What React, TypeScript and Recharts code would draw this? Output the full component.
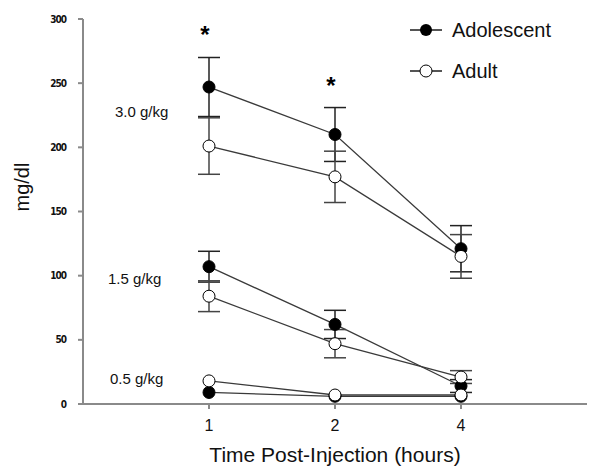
import React from 'react'
import { LineChart, Line, XAxis, YAxis, ErrorBar, Legend } from 'recharts'

// x positions are evenly spaced, labelled by the real hour values
const HOURS = ['1', '2', '4']
const X_POS = [1, 2, 3]
const Y_TICKS = [0, 50, 100, 150, 200, 250, 300]

const adol30 = [247, 210, 121]
const adol30Err = [23, 21, 18]
const adult30 = [201, 177, 115]
const adult30Err = [22, 20, 17]

const adol15 = [107, 62, 14]
const adol15Err = [12, 11, 5]
const adult15 = [84, 47, 21]
const adult15Err = [12, 11, 5]

const adol05 = [9, 6, 6]
const adult05 = [18, 7, 7]

const data = X_POS.map((x, i) => ({
    x,
    hour: HOURS[i],
    adol30: adol30[i], adol30Err: adol30Err[i],
    adult30: adult30[i], adult30Err: adult30Err[i],
    adol15: adol15[i], adol15Err: adol15Err[i],
    adult15: adult15[i], adult15Err: adult15Err[i],
    adol05: adol05[i],
    adult05: adult05[i],
}))

const FONT = '"Liberation Sans", Arial, sans-serif'
const LINE = '#3a3a3a'
const AXIS = '#8a8a8a'

const filledDot = { r: 6, fill: '#000', stroke: '#000', strokeWidth: 1 }
const openDot = { r: 6, fill: '#fff', stroke: '#000', strokeWidth: 1 }

function LegendBox() {
    return (
        <svg width={190} height={80} style={{ fontFamily: FONT }}>
            <line x1={5} y1={15} x2={37} y2={15} stroke="#555" strokeWidth={2} />
            <circle cx={21} cy={15} r={6} fill="#000" />
            <text x={47} y={22} fontSize={20} fill="#111">Adolescent</text>
            <line x1={5} y1={56} x2={37} y2={56} stroke="#555" strokeWidth={2} />
            <circle cx={21} cy={56} r={6} fill="#fff" stroke="#000" strokeWidth={1} />
            <text x={47} y={63} fontSize={20} fill="#111">Adult</text>
        </svg>
    )
}

export default function App() {
    return (
        <div style={{ position: 'absolute', left: 0, top: 0, width: 601, height: 474, background: '#fff' }}>
            <LineChart width={601} height={474} data={data} margin={{ top: 19, right: 14, left: 0, bottom: 0 }}>
                <XAxis
                    dataKey="x"
                    type="number"
                    domain={[0, 4]}
                    ticks={X_POS}
                    tickFormatter={(v) => HOURS[X_POS.indexOf(v)] ?? ''}
                    height={70}
                    stroke={AXIS}
                    strokeWidth={2}
                    tickSize={5}
                    tickMargin={11}
                    tick={{ fontSize: 16, fill: '#111', fontFamily: FONT }}
                    label={{ value: 'Time Post-Injection (hours)', position: 'insideBottom', offset: 12, fontSize: 21, fill: '#111', fontFamily: FONT }}
                />
                <YAxis
                    type="number"
                    domain={[0, 300]}
                    ticks={Y_TICKS}
                    width={83}
                    stroke={AXIS}
                    strokeWidth={2}
                    tickSize={5}
                    tickMargin={12}
                    tick={{ fontSize: 10, fill: '#111', fontWeight: 'bold', fontFamily: '"DejaVu Sans Condensed", "DejaVu Sans", sans-serif', letterSpacing: -1 }}
                    label={{ value: 'mg/dl', angle: -90, position: 'insideLeft', offset: 22, fontSize: 20, fill: '#111', fontFamily: FONT }}
                />
                <Legend layout="vertical" align="center" verticalAlign="middle" wrapperStyle={{ left: 405, top: 15, width: 190 }} content={() => <LegendBox />} />

                <Line dataKey="adol30" stroke={LINE} strokeWidth={1.3} dot={filledDot} isAnimationActive={false}>
                    <ErrorBar dataKey="adol30Err" width={11} stroke="#222" strokeWidth={1.5} direction="y" />
                </Line>
                <Line dataKey="adult30" stroke={LINE} strokeWidth={1.3} dot={openDot} isAnimationActive={false}>
                    <ErrorBar dataKey="adult30Err" width={11} stroke="#444" strokeWidth={1.5} direction="y" />
                </Line>
                <Line dataKey="adol15" stroke={LINE} strokeWidth={1.3} dot={filledDot} isAnimationActive={false}>
                    <ErrorBar dataKey="adol15Err" width={11} stroke="#222" strokeWidth={1.5} direction="y" />
                </Line>
                <Line dataKey="adult15" stroke={LINE} strokeWidth={1.3} dot={openDot} isAnimationActive={false}>
                    <ErrorBar dataKey="adult15Err" width={11} stroke="#444" strokeWidth={1.5} direction="y" />
                </Line>
                <Line dataKey="adol05" stroke={LINE} strokeWidth={1.3} dot={filledDot} isAnimationActive={false} />
                <Line dataKey="adult05" stroke={LINE} strokeWidth={1.3} dot={openDot} isAnimationActive={false} />
            </LineChart>

            {/* dose labels and significance stars */}
            <svg width={601} height={474} style={{ position: 'absolute', left: 0, top: 0, pointerEvents: 'none', fontFamily: FONT }}>
                <text x={205} y={43} fontSize={24} fontWeight="bold" textAnchor="middle" fill="#000">*</text>
                <text x={331} y={94} fontSize={24} fontWeight="bold" textAnchor="middle" fill="#000">*</text>
                <text x={115} y={117} fontSize={15} fill="#111">3.0 g/kg</text>
                <text x={108} y={284} fontSize={15} fill="#111">1.5 g/kg</text>
                <text x={110} y={384} fontSize={15} fill="#111">0.5 g/kg</text>
            </svg>
        </div>
    )
}
